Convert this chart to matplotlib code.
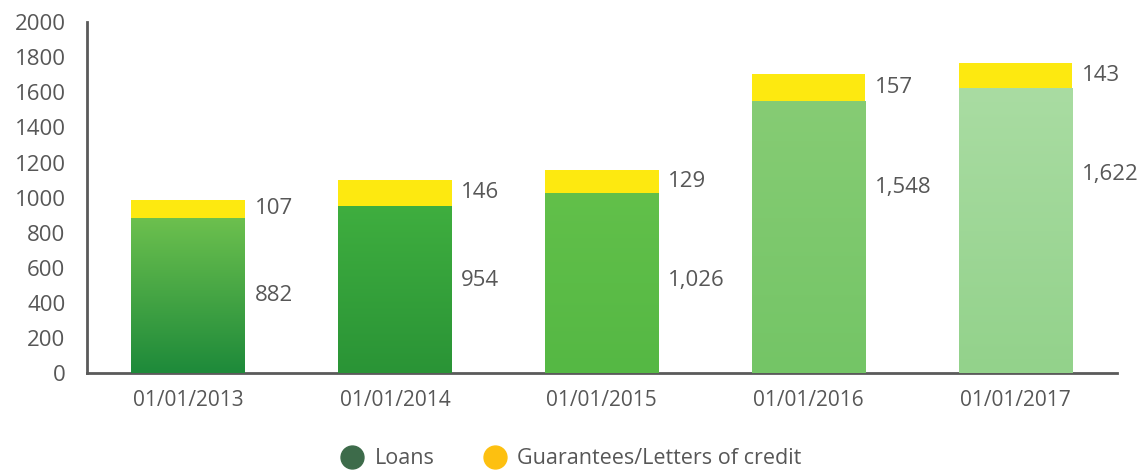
import matplotlib.pyplot as plt
import numpy as np
from matplotlib.lines import Line2D

dates = ['01/01/2013', '01/01/2014', '01/01/2015', '01/01/2016', '01/01/2017']
loans = [882, 954, 1026, 1548, 1622]
guarantees = [107, 146, 129, 157, 143]
loan_label_y = [440, 530, 530, 1055, 1130]

# one green per bar (top, bottom) to mimic the watercolour fill
greens = [('#6cc04e', '#1e8a3a'), ('#3fae3f', '#2a9436'), ('#62c04a', '#55b844'),
          ('#86cc74', '#74c566'), ('#a9dca2', '#93d28b')]
yellow = '#fde910'
grey = '#575757'

plt.rcParams['font.family'] = ['Open Sans', 'DejaVu Sans']

fig = plt.figure(figsize=(11.43, 4.70), dpi=100)
ax = fig.add_axes([0.0761, 0.206, 0.9009, 0.747])

x = np.arange(len(dates))
w = 0.55
bars = ax.bar(x, loans, width=w, color=[g[1] for g in greens], zorder=2)
ax.bar(x, guarantees, width=w, bottom=loans, color=yellow, zorder=2)

# vertical gradient inside each loans bar
for b, (top, bot) in zip(bars, greens):
    c1 = np.array(plt.matplotlib.colors.to_rgb(bot))
    c2 = np.array(plt.matplotlib.colors.to_rgb(top))
    t = np.linspace(0, 1, 100)[:, None]
    img = (c1 * (1 - t) + c2 * t)[:, None, :]
    im = ax.imshow(img, extent=[b.get_x(), b.get_x() + b.get_width(), 0, b.get_height()],
                   origin='lower', aspect='auto', zorder=3)
    im.set_clip_path(b)

for i in range(len(dates)):
    xr = x[i] + w / 2 + 0.045
    ax.text(xr, loan_label_y[i], f'{loans[i]:,}', va='center', ha='left', fontsize=16, color=grey)
    ax.text(xr, loans[i] + guarantees[i] / 2, f'{guarantees[i]}', va='center', ha='left',
            fontsize=16, color=grey)

ax.set_xlim(-0.49, 4.49)
ax.set_ylim(0, 2000)
ax.set_yticks(range(0, 2001, 200))
ax.set_xticks(x)
ax.set_xticklabels(dates)
ax.tick_params(length=0, colors=grey)
ax.tick_params(axis='x', pad=12, labelsize=15)
ax.tick_params(axis='y', pad=15.5, labelsize=16)
for s in ['top', 'right']:
    ax.spines[s].set_visible(False)
for s in ['left', 'bottom']:
    ax.spines[s].set_color('#5a5a5a')
    ax.spines[s].set_linewidth(2)

handles = [Line2D([], [], marker='o', ls='', color='#3d6b4a', markersize=16.5),
           Line2D([], [], marker='o', ls='', color='#fdc010', markersize=16.5)]
leg = fig.legend(handles, ['Loans', 'Guarantees/Letters of credit'], loc='lower center',
                 bbox_to_anchor=(0.5, -0.04), ncol=2, frameon=False, fontsize=15.5,
                 handletextpad=0.55, columnspacing=2.3, handlelength=1.0)
for t in leg.get_texts():
    t.set_color(grey)

fig.savefig('out.png', dpi=100)
